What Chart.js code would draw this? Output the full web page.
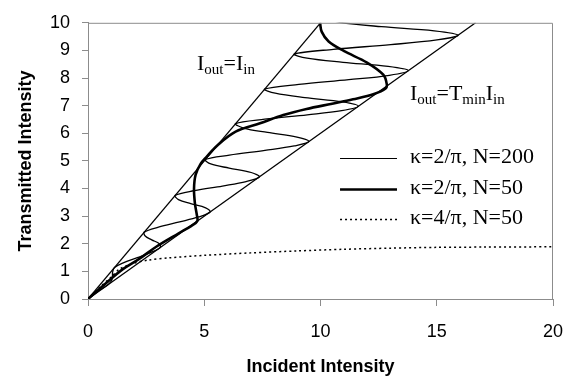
<!DOCTYPE html>
<html>
<head>
<meta charset="utf-8">
<title>Transmitted vs Incident Intensity</title>
<script src="https://cdn.jsdelivr.net/npm/chart.js"></script>
<style>
  html, body { margin: 0; padding: 0; background: #fff; }
  #wrap { width: 579px; height: 386px; }
</style>
</head>
<body>
<div id="wrap"><canvas id="myChart"></canvas></div>
<script>
// kappa = 2/pi, N = 200 (thin curve)
var thinX = [0, 0.42, 0.83, 1.01, 1.05, 1.06, 1.14, 1.54, 2.12, 2.69, 3.10, 3.07, 2.74, 2.46, 2.42,
  3.03, 3.94, 4.75, 5.25, 5.06, 4.42, 3.89, 3.75, 4.57, 5.78, 6.80, 7.37, 7.02, 6.07, 5.28, 5.05,
  6.08, 7.61, 8.87, 9.50, 8.99, 7.72, 6.69, 6.35, 7.60, 9.43, 10.91, 11.63, 10.95, 9.33, 8.05, 7.60,
  9.07, 11.22, 12.96, 13.78, 12.91, 10.97, 9.42, 8.87, 10.55, 13.02, 15.01, 15.92, 14.89, 12.62, 10.82, 10.17];
var thinY = [0, 0.27, 0.50, 0.66, 0.82, 0.98, 1.14, 1.32, 1.50, 1.68, 1.86, 2.00, 2.14, 2.28, 2.42,
  2.60, 2.79, 2.97, 3.15, 3.30, 3.45, 3.60, 3.75, 3.92, 4.09, 4.25, 4.42, 4.58, 4.74, 4.89, 5.05,
  5.21, 5.38, 5.54, 5.70, 5.86, 6.03, 6.19, 6.35, 6.51, 6.67, 6.82, 6.98, 7.14, 7.29, 7.45, 7.60,
  7.77, 7.94, 8.10, 8.27, 8.42, 8.57, 8.72, 8.87, 9.04, 9.21, 9.38, 9.55, 9.71, 9.86, 10.02, 10.17];

// kappa = 2/pi, N = 50 (thick curve)
var thickX = [0, 0.7, 1.5, 2.2, 2.95, 3.9, 4.45, 4.7, 4.68, 4.6, 4.56, 4.63, 4.85, 5.1, 5.55,
  6.35, 7.4, 8.4, 9.4, 10.5, 11.4, 12.3, 12.8, 12.85, 12.7, 12.0, 11.0, 10.35, 10.05, 9.98];
var thickY = [0, 0.52, 1.08, 1.45, 1.9, 2.38, 2.65, 2.82, 3.05, 3.45, 4.0, 4.5, 4.9, 5.15, 5.55,
  6.06, 6.36, 6.66, 6.88, 7.07, 7.23, 7.42, 7.62, 7.78, 8.12, 8.56, 8.98, 9.32, 9.68, 10.0];

// kappa = 4/pi, N = 50 (dotted curve)
var dotX = [0, 0.5, 1.0, 1.35, 1.9, 2.6, 3.5, 5, 7, 9, 11, 13, 15, 17, 20];
var dotY = [0, 0.42, 0.8, 1.08, 1.28, 1.41, 1.49, 1.58, 1.67, 1.74, 1.8, 1.84, 1.87, 1.88, 1.89];

// bounding lines Iout = Iin and Iout = Tmin Iin (Tmin ~ 0.6)
var unityX = [0, 10];
var unityY = [0, 10];
var tminX = [0, 16.67];
var tminY = [0, 10];

var xTicks = [0, 5, 10, 15, 20];
var yTicks = [0, 1, 2, 3, 4, 5, 6, 7, 8, 9, 10];

var legendLabels = ['\u03ba=2/\u03c0, N=200', '\u03ba=2/\u03c0, N=50', '\u03ba=4/\u03c0, N=50'];

function pts(xs, ys) {
  return xs.map(function (x, i) { return { x: x, y: ys[i] }; });
}

var sans = 'Liberation Sans, Arial, sans-serif';
var serif = 'Liberation Serif, Times New Roman, serif';
var gray = '#8c8c8c';

var datasets = [
  { label: legendLabels[0], data: pts(thinX, thinY), borderColor: '#000', borderWidth: 1.3, tension: 0.35 },
  { label: legendLabels[1], data: pts(thickX, thickY), borderColor: '#000', borderWidth: 2.6, tension: 0.35 },
  { label: legendLabels[2], data: pts(dotX, dotY), borderColor: '#000', borderWidth: 1.5, borderDash: [2, 3], tension: 0.3 },
  { label: 'unity', data: pts(unityX, unityY), borderColor: '#000', borderWidth: 1.3 },
  { label: 'tmin', data: pts(tminX, tminY), borderColor: '#000', borderWidth: 1.3 }
];
datasets.forEach(function (d) { d.showLine = true; d.pointRadius = 0; d.fill = false; });

// draws "I_out=I_in" style labels with subscripts
function drawSub(c, parts, x, y) {
  parts.forEach(function (p) {
    c.font = p[1] ? '15px ' + serif : '22px ' + serif;
    c.fillText(p[0], x, p[1] ? y + 4 : y);
    x += c.measureText(p[0]).width;
  });
}

var extras = {
  id: 'extras',
  afterDraw: function (chart) {
    var c = chart.ctx, a = chart.chartArea, xs = chart.scales.x, ys = chart.scales.y;
    c.save();
    // top and right frame
    c.strokeStyle = gray;
    c.lineWidth = 1;
    c.beginPath();
    c.moveTo(a.left, a.top + 0.5);
    c.lineTo(a.right - 0.5, a.top + 0.5);
    c.lineTo(a.right - 0.5, a.bottom);
    c.stroke();

    c.fillStyle = '#000';
    c.textBaseline = 'alphabetic';
    drawSub(c, [['I', 0], ['out', 1], ['=I', 0], ['in', 1]], xs.getPixelForValue(4.69), ys.getPixelForValue(8.3));
    drawSub(c, [['I', 0], ['out', 1], ['=T', 0], ['min', 1], ['I', 0], ['in', 1]], xs.getPixelForValue(13.85), ys.getPixelForValue(7.2));

    // legend
    var rowY = [5.1, 4.0, 2.9];
    for (var i = 0; i < 3; i++) {
      var ds = chart.data.datasets[i];
      var y = Math.round(ys.getPixelForValue(rowY[i])) + 0.5;
      c.strokeStyle = '#000';
      c.lineWidth = i === 0 ? 1 : ds.borderWidth;
      c.setLineDash(ds.borderDash || []);
      c.beginPath();
      c.moveTo(xs.getPixelForValue(10.84), y);
      c.lineTo(xs.getPixelForValue(13.29), y);
      c.stroke();
      c.setLineDash([]);
      c.font = '22px ' + serif;
      c.textBaseline = 'middle';
      c.fillText(ds.label, xs.getPixelForValue(13.85), y - 1);
    }
    c.restore();
  }
};

var ctx = document.getElementById('myChart').getContext('2d');
var myChart = new Chart(ctx, {
  type: 'scatter',
  data: { datasets: datasets },
  options: {
    responsive: true,
    maintainAspectRatio: false,
    animation: false,
    layout: { padding: { top: 11, right: 26, left: 0, bottom: 0 } },
    plugins: { legend: { display: false }, tooltip: { enabled: false } },
    scales: {
      x: {
        type: 'linear', min: 0, max: 20,
        afterBuildTicks: function (s) { s.ticks = xTicks.map(function (v) { return { value: v }; }); },
        ticks: { color: '#000', font: { family: sans, size: 18 }, padding: 15 },
        grid: { drawOnChartArea: false, tickLength: 7, color: gray },
        border: { color: gray },
        title: { display: true, text: 'Incident Intensity', color: '#000',
          font: { family: sans, size: 18, weight: 'bold' }, padding: { top: 0, bottom: 8 } },
        afterFit: function (s) { s.height = 87; }
      },
      y: {
        type: 'linear', min: 0, max: 10,
        afterBuildTicks: function (s) { s.ticks = yTicks.map(function (v) { return { value: v }; }); },
        ticks: { color: '#000', font: { family: sans, size: 18 }, padding: 12 },
        grid: { drawOnChartArea: false, tickLength: 6, color: gray },
        border: { color: gray },
        title: { display: true, text: 'Transmitted Intensity', color: '#000',
          font: { family: sans, size: 18, weight: 'bold' }, padding: { top: 15, bottom: 0 } },
        afterFit: function (s) { s.width = 88; }
      }
    }
  },
  plugins: [extras]
});
</script>
</body>
</html>
